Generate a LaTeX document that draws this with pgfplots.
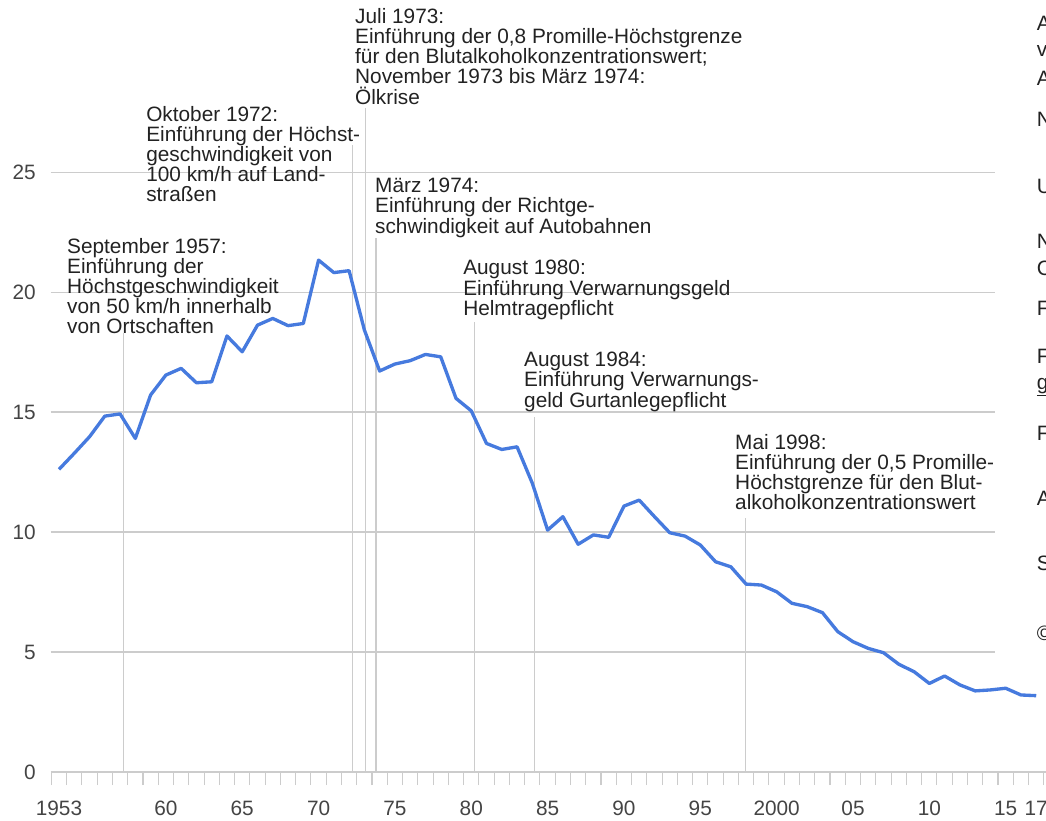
\documentclass[border=0pt]{standalone}
\usepackage{fontspec}
\setmainfont{Liberation Sans}
\usepackage{pgfplots}
\usepackage{pgfplotstable}
\pgfplotsset{compat=1.18}
\definecolor{lineblue}{RGB}{70,122,222}
\definecolor{gridc}{RGB}{204,204,204}
\definecolor{txt}{RGB}{34,34,34}
\definecolor{tickc}{RGB}{68,68,68}
\pgfplotstableread{
year val
1953 12.61
1954 13.28
1955 13.97
1956 14.83
1957 14.92
1958 13.90
1959 15.71
1960 16.54
1961 16.82
1962 16.22
1963 16.26
1964 18.17
1965 17.51
1966 18.62
1967 18.90
1968 18.60
1969 18.69
1970 21.33
1971 20.81
1972 20.89
1973 18.42
1974 16.71
1975 17.00
1976 17.14
1977 17.40
1978 17.30
1979 15.57
1980 15.05
1981 13.69
1982 13.44
1983 13.55
1984 12.03
1985 10.08
1986 10.64
1987 9.49
1988 9.88
1989 9.78
1990 11.08
1991 11.33
1992 10.64
1993 9.97
1994 9.83
1995 9.46
1996 8.76
1997 8.55
1998 7.83
1999 7.79
2000 7.51
2001 7.03
2002 6.89
2003 6.64
2004 5.85
2005 5.43
2006 5.15
2007 4.97
2008 4.49
2009 4.18
2010 3.69
2011 4.00
2012 3.63
2013 3.38
2014 3.42
2015 3.49
2016 3.21
2017 3.18
}\datatable
\begin{document}
\begin{tikzpicture}
\begin{axis}[
  at={(0,0)}, anchor=south west,
  scale only axis,
  width=746.55pt, height=579pt,
  xmin=1952.95, xmax=2018.14,
  ymin=0, ymax=32.17,
  axis line style={draw=none},
  clip=false,
  xtick={1953.5,1960.5,1965.5,1970.5,1975.5,1980.5,1985.5,1990.5,1995.5,2000.5,2005.5,2010.5,2015.5,2017.5},
  xticklabels={1953,60,65,70,75,80,85,90,95,2000,05,10,15,17},
  minor xtick={1953,1954,...,2018},
  ytick={0,5,10,15,20,25},
  tick align=outside,
  xtick pos=left, ytick pos=left,
  major tick length=0pt,
  minor tick length=9.75pt,
  minor tick style={color=gridc, line width=0.8pt},
  xticklabel style={anchor=base, inner sep=0pt, yshift=-32.6pt, font=\fontsize{15.6}{15}\selectfont, text=tickc},
  yticklabel style={anchor=east, inner sep=0pt, xshift=-11pt, font=\fontsize{15.6}{15}\selectfont, text=tickc},
  /pgf/number format/assume math mode=true,
]
% gridlines
\pgfplotsinvokeforeach{5,10,15,20,25}{
  \draw[gridc, line width=0.8pt] (axis cs:1952.95,#1) -- (axis cs:2014.8,#1);
}
\draw[gridc, line width=0.8pt] (axis cs:1952.95,0) -- (axis cs:2018.14,0);
% event lines
\draw[gridc, line width=0.8pt] (axis cs:1957.70,0) -- (axis cs:1957.70,18.29);
\draw[gridc, line width=0.8pt] (axis cs:1972.75,0) -- (axis cs:1972.75,26.12);
\draw[gridc, line width=0.8pt] (axis cs:1973.60,0) -- (axis cs:1973.60,27.67);
\draw[gridc, line width=0.8pt] (axis cs:1974.26,0) -- (axis cs:1974.26,22.25);
\draw[gridc, line width=0.8pt] (axis cs:1980.74,0) -- (axis cs:1980.74,18.75);
\draw[gridc, line width=0.8pt] (axis cs:1984.67,0) -- (axis cs:1984.67,14.79);
\draw[gridc, line width=0.8pt] (axis cs:1998.49,0) -- (axis cs:1998.49,10.58);
% data
\addplot[lineblue, line width=2.5pt, line join=round, mark=none]
  table[x expr=\thisrow{year}+0.5, y=val] {\datatable};
% annotations
\tikzset{ann/.style={anchor=north west, inner sep=0pt, align=left, text=txt, font=\fontsize{15.6}{15.1}\selectfont}}
\node[ann] at (axis cs:1954.02,22.25) {September 1957:\\Einführung der\\Höchstgeschwindigkeit\\von 50 km/h innerhalb\\von Ortschaften};
\node[ann] at (axis cs:1959.20,27.75) {Oktober 1972:\\Einführung der Höchst-\\geschwindigkeit von\\100 km/h auf Land-\\straßen};
\node[ann] at (axis cs:1972.88,31.83) {Juli 1973:\\Einführung der 0,8 Promille-Höchstgrenze\\für den Blutalkoholkonzentrationswert;\\November 1973 bis März 1974:\\Ölkrise};
\node[ann] at (axis cs:1974.19,24.75) {März 1974:\\Einführung der Richtge-\\schwindigkeit auf Autobahnen};
\node[ann] at (axis cs:1979.96,21.33) {August 1980:\\Einführung Verwarnungsgeld\\Helmtragepflicht};
\node[ann] at (axis cs:1983.95,17.50) {August 1984:\\Einführung Verwarnungs-\\geld Gurtanlegepflicht};
\node[ann] at (axis cs:1997.77,14.08) {Mai 1998:\\Einführung der 0,5 Promille-\\Höchstgrenze für den Blut-\\alkoholkonzentrationswert};
% cropped side text (cut at the right edge, as in the reference)
\tikzset{side/.style={anchor=base west, inner sep=0pt, text=txt, font=\fontsize{15.6}{15}\selectfont}}
\node[side] at (axis cs:2017.52,30.917) {A};
\node[side] at (axis cs:2017.52,29.833) {v};
\node[side] at (axis cs:2017.52,28.625) {A};
\node[side] at (axis cs:2017.52,26.917) {N};
\node[side] at (axis cs:2017.52,24.125) {U};
\node[side] at (axis cs:2017.52,21.833) {N};
\node[side] at (axis cs:2017.52,20.708) {C};
\node[side] at (axis cs:2017.52,19.042) {F};
\node[side] at (axis cs:2017.52,17.042) {F};
\node[side] at (axis cs:2017.52,15.958) {\underline{g}};
\node[side] at (axis cs:2017.52,13.833) {F};
\node[side] at (axis cs:2017.52,11.125) {A};
\node[side] at (axis cs:2017.52,8.417) {S};
\node[side] at (axis cs:2017.52,5.5) {©};
\end{axis}
\pgfresetboundingbox
\path[use as bounding box] (-37.95pt,-36.75pt) rectangle (746.55pt,579pt);
\end{tikzpicture}
\end{document}
